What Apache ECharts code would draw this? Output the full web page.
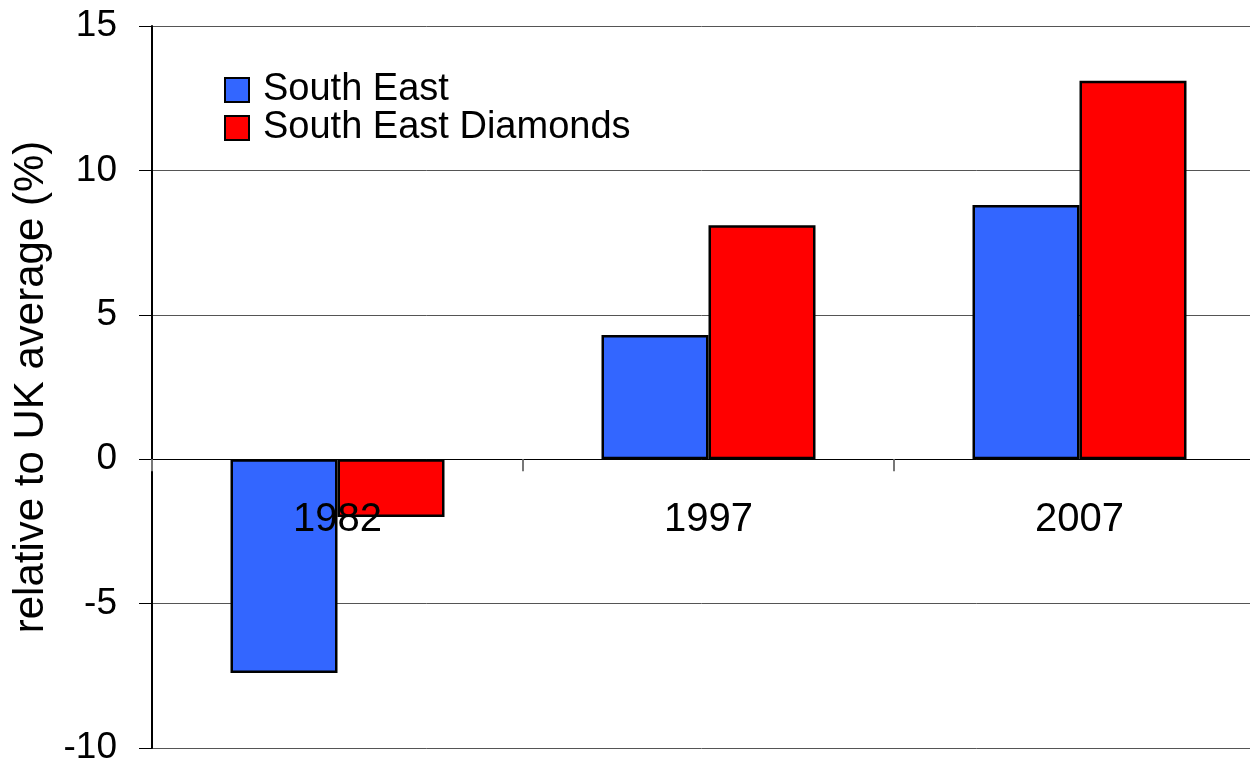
<!DOCTYPE html>
<html>
<head>
<meta charset="utf-8">
<script src="https://cdn.jsdelivr.net/npm/echarts@6/dist/echarts.min.js"></script>
<style>
html,body{margin:0;padding:0;background:#fff;}
#chart{width:1250px;height:763px;}
</style>
</head>
<body>
<div id="chart"></div>
<script>
const categories = ['1982', '1997', '2007'];
const southEast = [-7.4, 4.3, 8.8];
const southEastDiamonds = [-2.0, 8.1, 13.1];
const seriesNames = ['South East', 'South East Diamonds'];
const yTitle = 'relative to UK average (%)';
const yMin = -10, yMax = 15, yStep = 5;

const FONT = '"Liberation Sans", Arial, sans-serif';
const GRID_TOP = 26, GRID_H = 722;
// the category axis sits on the zero line of the value axis
const zeroOffset = -GRID_H * (0 - yMin) / (yMax - yMin);

const chart = echarts.init(document.getElementById('chart'));
chart.setOption({
  backgroundColor: '#ffffff',
  animation: false,
  textStyle: { fontFamily: FONT, color: '#000' },
  grid: { left: 152, top: GRID_TOP, width: 1113, height: GRID_H, containLabel: false, outerBoundsMode: 'none' },
  legend: {
    orient: 'vertical',
    left: 224,
    top: 71,
    padding: 0,
    itemWidth: 24,
    itemHeight: 24,
    itemGap: 0,
    icon: 'rect',
    textStyle: { fontSize: 38, color: '#000', fontFamily: FONT, lineHeight: 37, padding: [0, 0, 0, 9] },
    data: seriesNames
  },
  xAxis: {
    type: 'category',
    data: categories,
    position: 'bottom',
    offset: zeroOffset,
    z: 5,
    axisLine: { onZero: false, lineStyle: { color: '#000', width: 1 } },
    axisTick: { show: true, length: 12, lineStyle: { color: '#777', width: 2 } },
    axisLabel: { fontSize: 40, color: '#000', margin: 41, fontFamily: FONT },
    splitLine: { show: false }
  },
  yAxis: {
    type: 'value',
    min: yMin,
    max: yMax,
    interval: yStep,
    name: yTitle,
    nameLocation: 'middle',
    nameGap: 100,
    nameTextStyle: { fontSize: 42, color: '#000', fontFamily: FONT },
    axisLine: { show: true, lineStyle: { color: '#000', width: 2 } },
    axisTick: { show: true, inside: false, length: 13, lineStyle: { color: '#000', width: 1 } },
    axisLabel: { fontSize: 37, color: '#000', margin: 35, fontFamily: FONT },
    splitLine: { show: true, lineStyle: { color: '#555', width: 1 } }
  },
  series: [
    {
      name: seriesNames[0],
      type: 'bar',
      data: southEast,
      barWidth: 107,
      barGap: '0%',
      itemStyle: { color: '#3366FF', borderColor: '#000', borderWidth: 2.5 }
    },
    {
      name: seriesNames[1],
      type: 'bar',
      data: southEastDiamonds,
      barWidth: 107,
      barGap: '0%',
      itemStyle: { color: '#FF0000', borderColor: '#000', borderWidth: 2.5 }
    }
  ]
});
</script>
</body>
</html>
